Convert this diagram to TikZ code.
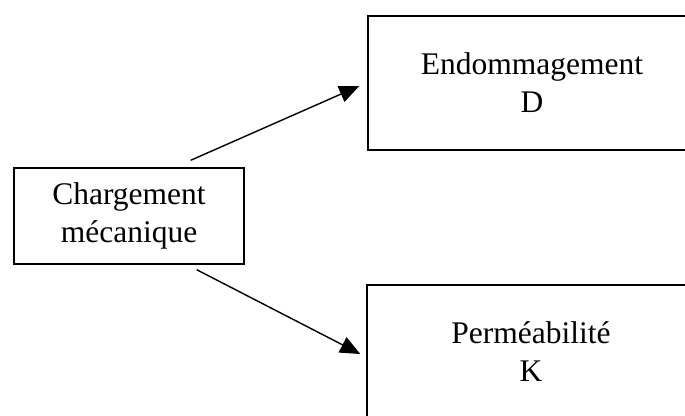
\documentclass[tikz,border=0pt]{standalone}
\usepackage{fontspec}
\setmainfont{Liberation Serif}
\usetikzlibrary{arrows.meta, positioning}

\begin{document}
\begin{tikzpicture}[
  x=1pt, y=1pt,
  box/.style = {draw, line width=1.4pt, inner sep=0pt, align=center,
                font=\fontsize{31.5}{38}\selectfont},
  arr/.style = {-{Triangle[length=20pt, width=17pt]}, line width=1.4pt},
]
  \clip (0,0) rectangle (685,-415);
  \useasboundingbox (0,0) rectangle (685,-415);

  \node[box, minimum width=230pt, minimum height=96pt]  (chg)  at (129,-216) {Chargement\\m\'ecanique};
  \node[box, minimum width=328pt, minimum height=134pt] (endo) at (532,-83)  {Endommagement\\D};
  \node[box, minimum width=328pt, minimum height=134pt] (perm) at (531,-352) {Perm\'eabilit\'e\\K};

  \draw[arr] ([xshift=-54pt, yshift=7pt]chg.north east) -- ([xshift=-8pt, yshift=-3pt]endo.west);
  \draw[arr] ([xshift=-48pt, yshift=-5pt]chg.south east) -- ([xshift=-6pt, yshift=-2pt]perm.west);
\end{tikzpicture}
\end{document}
